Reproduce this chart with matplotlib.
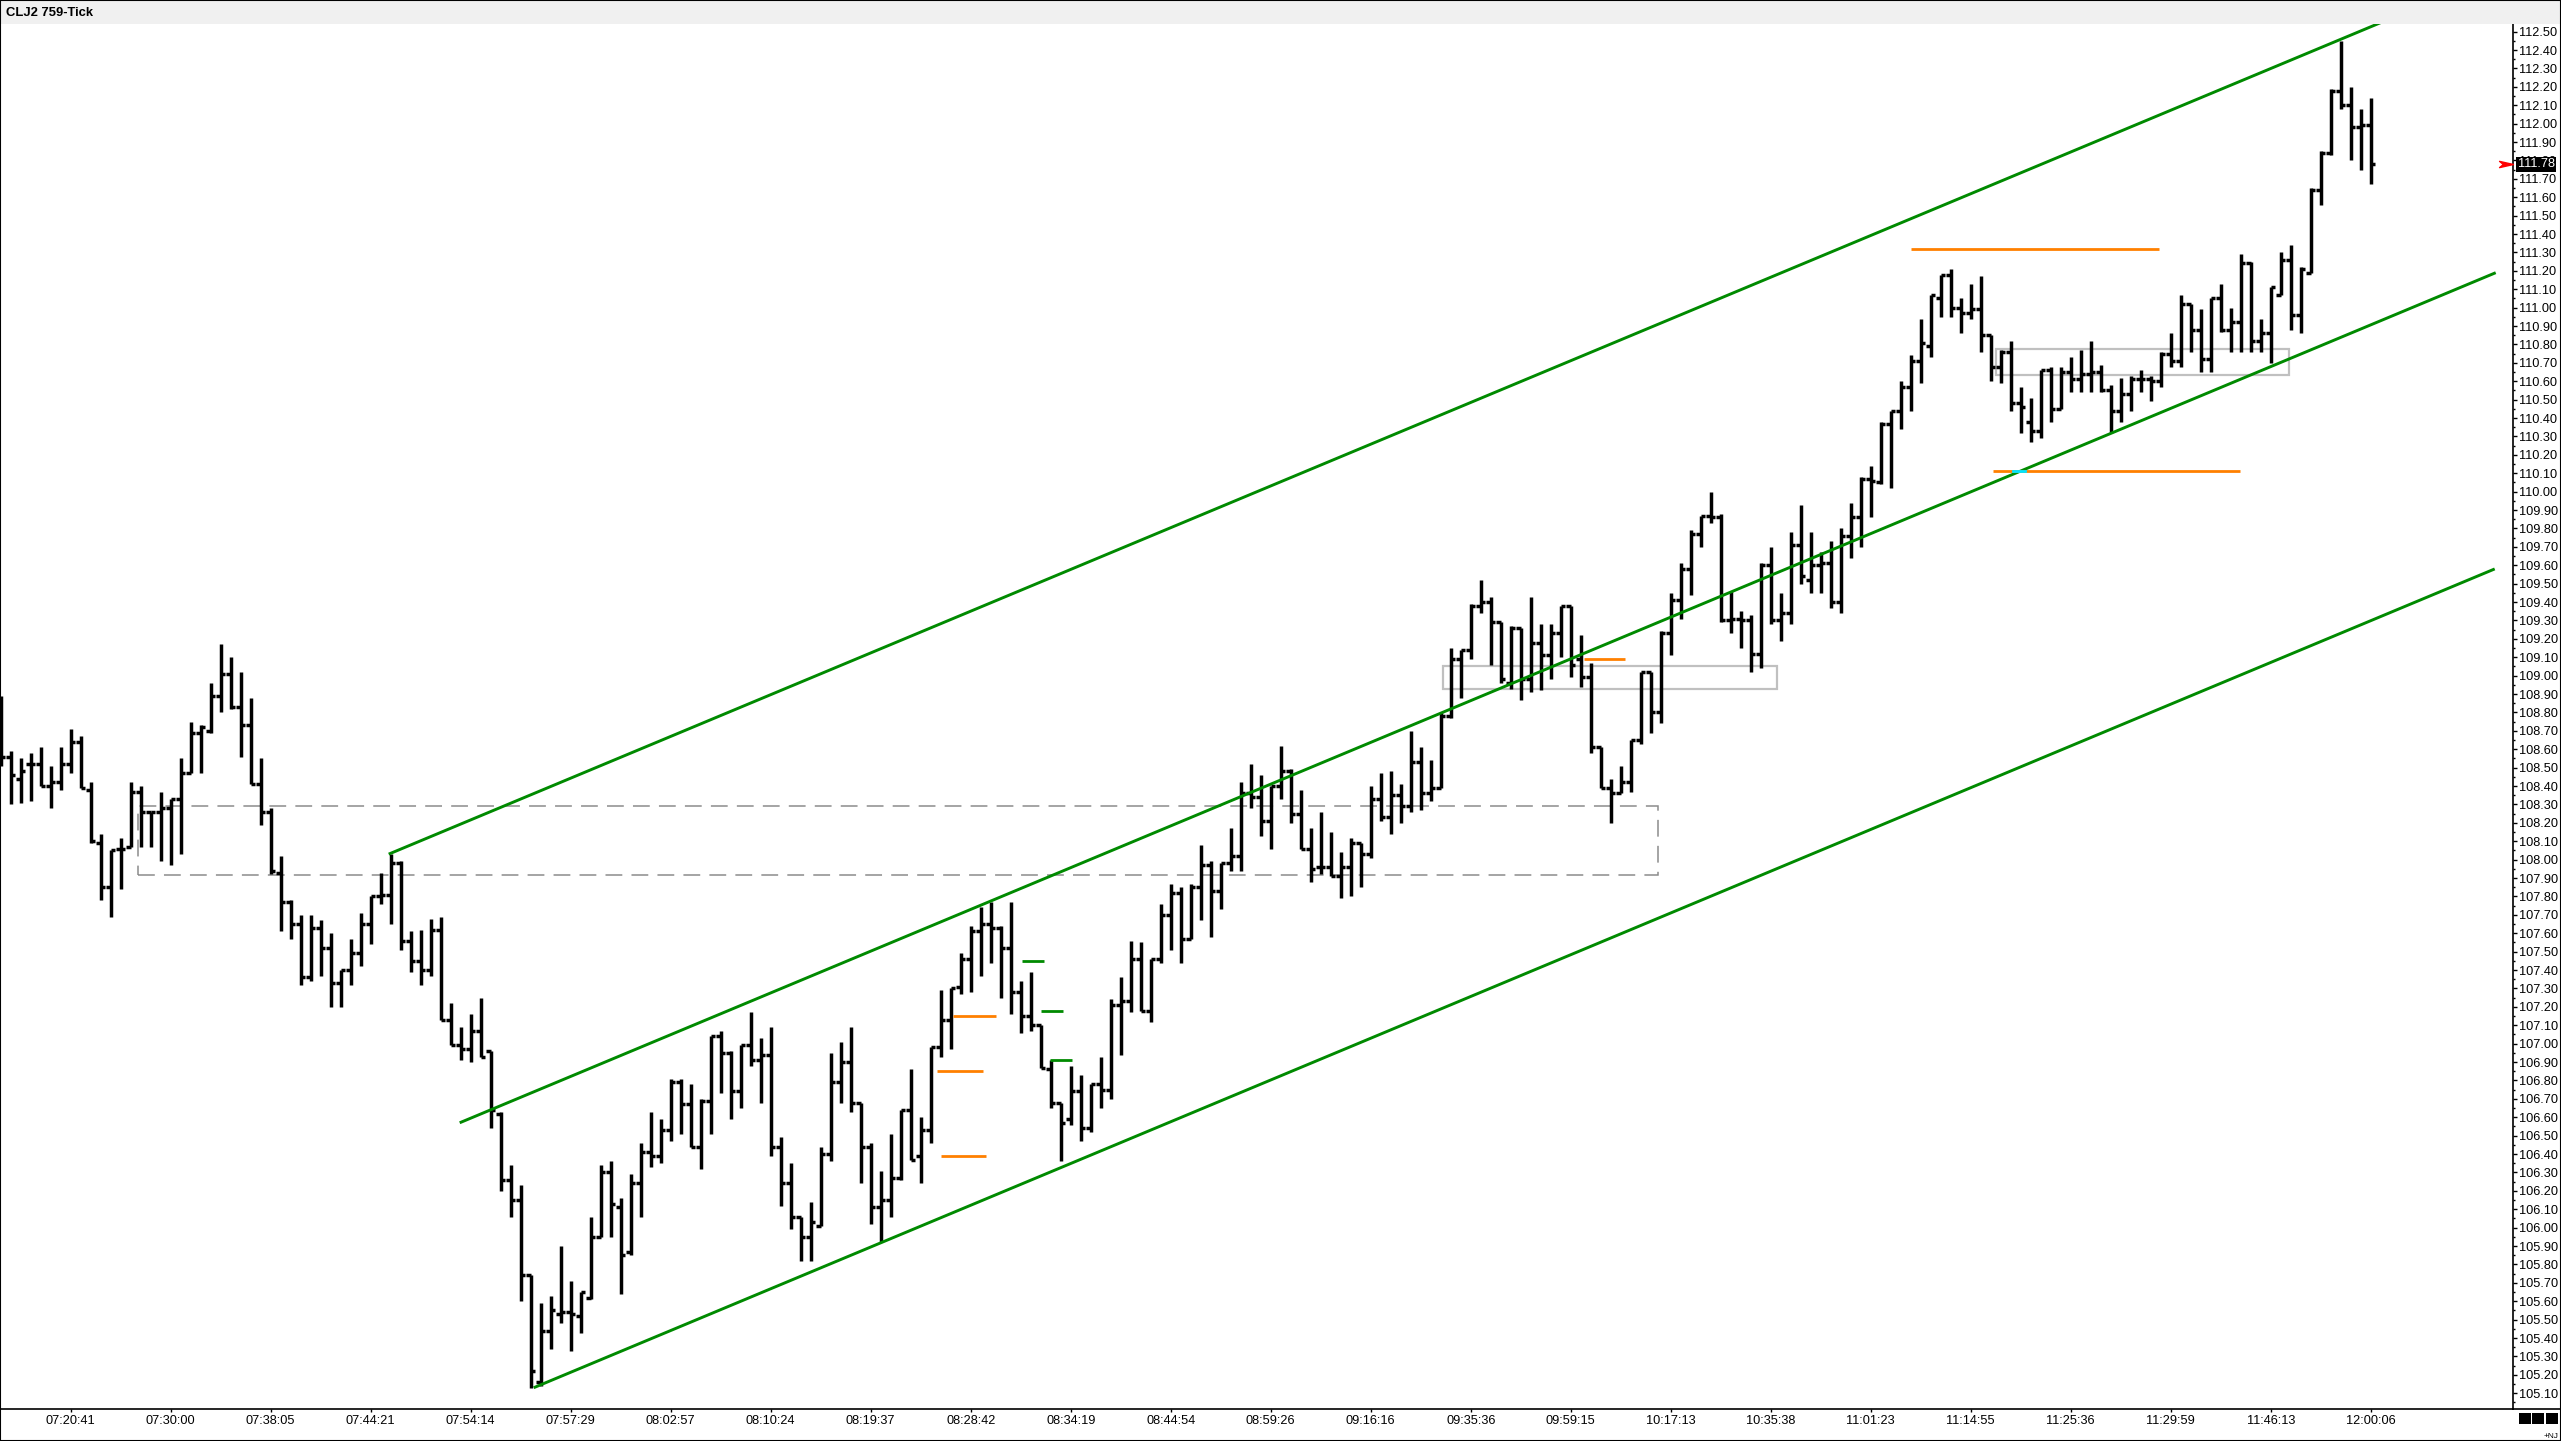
import numpy as np
import matplotlib
matplotlib.use('Agg')
import matplotlib.pyplot as plt
from matplotlib.collections import LineCollection
from matplotlib.patches import Rectangle
from matplotlib.path import Path
from matplotlib.lines import Line2D
from matplotlib.ticker import MultipleLocator, FormatStrFormatter
import matplotlib.transforms as mtransforms

plt.rcParams['font.family'] = ['Liberation Sans', 'DejaVu Sans']

# OHLC bars, one per 759-tick bar, oldest first
opens = [
    108.76, 108.56, 108.44, 108.52, 108.52, 108.40, 108.42, 108.52, 108.64, 108.38,
    108.09, 107.85, 108.06, 108.07, 108.37, 108.26, 108.26, 108.28, 108.33, 108.47,
    108.69, 108.70, 108.89, 109.01, 108.83, 108.73, 108.41, 108.26, 107.93, 107.77,
    107.65, 107.36, 107.63, 107.52, 107.33, 107.40, 107.49, 107.65, 107.80, 107.81,
    107.98, 107.56, 107.45, 107.40, 107.62, 107.13, 106.99, 106.97, 107.07, 106.96,
    106.62, 106.26, 106.15, 105.74, 105.16, 105.44, 105.53, 105.54, 105.52, 105.62,
    105.95, 106.30, 106.11, 105.87, 106.24, 106.41, 106.39, 106.53, 106.79, 106.67,
    106.44, 106.69, 107.04, 106.95, 106.74, 106.99, 106.91, 106.94, 106.44, 106.24,
    106.06, 105.95, 106.01, 106.40, 106.79, 106.90, 106.68, 106.44, 106.11, 106.15,
    106.27, 106.64, 106.39, 106.53, 106.98, 107.13, 107.31, 107.46, 107.61, 107.65,
    107.63, 107.52, 107.28, 107.15, 107.10, 106.86, 106.68, 106.59, 106.74, 106.54,
    106.78, 106.75, 107.21, 107.23, 107.46, 107.18, 107.46, 107.70, 107.82, 107.57,
    107.85, 107.97, 107.83, 107.98, 108.02, 108.36, 108.34, 108.21, 108.40, 108.48,
    108.25, 108.06, 107.96, 107.96, 107.91, 107.96, 108.09, 108.03, 108.33, 108.23,
    108.35, 108.29, 108.53, 108.36, 108.39, 108.78, 109.09, 109.14, 109.38, 109.40,
    109.29, 108.96, 109.26, 108.98, 109.18, 109.11, 109.23, 109.38, 109.09, 108.99,
    108.61, 108.39, 108.36, 108.42, 108.65, 109.02, 108.80, 109.23, 109.41, 109.58,
    109.77, 109.87, 109.86, 109.30, 109.31, 109.30, 109.12, 109.60, 109.30, 109.34,
    109.71, 109.52, 109.60, 109.61, 109.40, 109.76, 109.86, 110.07, 110.05, 110.37,
    110.44, 110.57, 110.71, 110.79, 111.05, 111.18, 111.00, 110.97, 110.99, 110.85,
    110.68, 110.76, 110.48, 110.38, 110.33, 110.66, 110.45, 110.65, 110.61, 110.64,
    110.65, 110.55, 110.44, 110.53, 110.61, 110.61, 110.60, 110.75, 110.71, 111.02,
    110.88, 110.72, 111.05, 110.88, 110.92, 111.24, 110.82, 110.86, 111.07, 111.26,
    110.96, 111.19, 111.64, 111.84, 112.18, 112.10, 111.98, 111.99,
]
highs = [
    108.89, 108.59, 108.55, 108.58, 108.61, 108.51, 108.61, 108.71, 108.67, 108.42,
    108.14, 108.05, 108.12, 108.42, 108.40, 108.26, 108.37, 108.33, 108.55, 108.75,
    108.73, 108.96, 109.17, 109.10, 109.02, 108.88, 108.55, 108.28, 108.02, 107.78,
    107.70, 107.70, 107.67, 107.60, 107.40, 107.57, 107.71, 107.80, 107.93, 108.03,
    107.99, 107.61, 107.62, 107.68, 107.69, 107.22, 107.09, 107.16, 107.25, 106.96,
    106.63, 106.34, 106.23, 105.74, 105.59, 105.63, 105.90, 105.71, 105.65, 106.06,
    106.34, 106.36, 106.16, 106.29, 106.46, 106.63, 106.59, 106.81, 106.81, 106.78,
    106.70, 107.04, 107.07, 106.96, 106.99, 107.17, 107.03, 107.09, 106.49, 106.35,
    106.06, 106.14, 106.44, 106.95, 107.01, 107.09, 106.68, 106.46, 106.31, 106.51,
    106.64, 106.86, 106.60, 106.98, 107.29, 107.30, 107.49, 107.64, 107.74, 107.77,
    107.64, 107.77, 107.34, 107.39, 107.10, 106.91, 106.68, 106.88, 106.83, 106.78,
    106.93, 107.24, 107.36, 107.56, 107.55, 107.46, 107.76, 107.87, 107.85, 107.87,
    108.08, 107.99, 107.98, 108.17, 108.42, 108.52, 108.46, 108.40, 108.62, 108.49,
    108.38, 108.17, 108.26, 108.15, 108.04, 108.12, 108.09, 108.40, 108.47, 108.48,
    108.41, 108.70, 108.61, 108.54, 108.80, 109.15, 109.14, 109.39, 109.52, 109.43,
    109.29, 109.27, 109.26, 109.43, 109.28, 109.28, 109.38, 109.38, 109.22, 109.07,
    108.61, 108.44, 108.51, 108.65, 109.02, 109.02, 109.24, 109.45, 109.61, 109.79,
    109.87, 110.00, 109.88, 109.46, 109.35, 109.33, 109.61, 109.70, 109.45, 109.78,
    109.93, 109.78, 109.67, 109.73, 109.80, 109.94, 110.08, 110.14, 110.38, 110.44,
    110.60, 110.74, 110.94, 111.07, 111.18, 111.21, 111.05, 111.13, 111.17, 110.85,
    110.77, 110.82, 110.57, 110.51, 110.66, 110.68, 110.68, 110.73, 110.77, 110.82,
    110.69, 110.58, 110.62, 110.63, 110.66, 110.63, 110.76, 110.86, 111.07, 111.02,
    110.99, 111.05, 111.13, 111.00, 111.29, 111.25, 110.94, 111.11, 111.30, 111.34,
    111.22, 111.65, 111.85, 112.19, 112.45, 112.20, 112.08, 112.14,
]
lows = [
    108.51, 108.30, 108.31, 108.32, 108.40, 108.28, 108.38, 108.47, 108.39, 108.09,
    107.78, 107.69, 107.84, 108.07, 108.07, 108.07, 107.99, 107.97, 108.03, 108.47,
    108.47, 108.69, 108.80, 108.82, 108.56, 108.41, 108.19, 107.92, 107.61, 107.57,
    107.32, 107.34, 107.37, 107.20, 107.20, 107.32, 107.42, 107.54, 107.76, 107.65,
    107.51, 107.39, 107.32, 107.37, 107.13, 106.99, 106.91, 106.90, 106.93, 106.54,
    106.20, 106.06, 105.60, 105.13, 105.14, 105.34, 105.48, 105.33, 105.43, 105.61,
    105.95, 105.95, 105.64, 105.85, 106.06, 106.33, 106.35, 106.47, 106.51, 106.44,
    106.32, 106.51, 106.73, 106.59, 106.65, 106.88, 106.68, 106.39, 106.12, 105.99,
    105.82, 105.82, 106.01, 106.36, 106.68, 106.63, 106.24, 106.02, 105.92, 106.06,
    106.26, 106.37, 106.24, 106.46, 106.93, 106.97, 107.27, 107.28, 107.37, 107.44,
    107.25, 107.16, 107.06, 107.07, 106.87, 106.65, 106.36, 106.56, 106.47, 106.52,
    106.65, 106.70, 106.94, 107.17, 107.18, 107.12, 107.44, 107.51, 107.44, 107.57,
    107.67, 107.58, 107.73, 107.94, 107.94, 108.28, 108.13, 108.06, 108.33, 108.20,
    108.06, 107.88, 107.92, 107.91, 107.79, 107.80, 107.85, 108.01, 108.21, 108.14,
    108.20, 108.26, 108.27, 108.32, 108.39, 108.77, 108.88, 109.09, 109.34, 109.06,
    108.96, 108.93, 108.87, 108.91, 108.92, 108.98, 109.10, 108.99, 108.94, 108.58,
    108.39, 108.20, 108.36, 108.37, 108.63, 108.69, 108.74, 109.11, 109.31, 109.44,
    109.70, 109.83, 109.29, 109.23, 109.15, 109.02, 109.04, 109.28, 109.19, 109.28,
    109.50, 109.45, 109.45, 109.37, 109.34, 109.64, 109.70, 109.86, 110.04, 110.02,
    110.34, 110.44, 110.59, 110.73, 110.95, 110.95, 110.86, 110.94, 110.76, 110.60,
    110.59, 110.44, 110.32, 110.27, 110.29, 110.38, 110.45, 110.54, 110.54, 110.54,
    110.54, 110.32, 110.38, 110.44, 110.54, 110.49, 110.57, 110.68, 110.68, 110.76,
    110.65, 110.65, 110.87, 110.76, 110.76, 110.76, 110.76, 110.70, 111.07, 110.88,
    110.86, 111.19, 111.56, 111.83, 112.08, 111.80, 111.75, 111.67,
]
closes = [
    108.56, 108.46, 108.48, 108.52, 108.40, 108.42, 108.52, 108.64, 108.39, 108.10,
    107.85, 108.05, 108.06, 108.37, 108.26, 108.26, 108.28, 108.33, 108.47, 108.69,
    108.72, 108.89, 109.01, 108.83, 108.73, 108.41, 108.26, 107.94, 107.77, 107.65,
    107.36, 107.63, 107.52, 107.33, 107.40, 107.49, 107.65, 107.80, 107.81, 107.98,
    107.56, 107.45, 107.40, 107.62, 107.13, 106.99, 106.97, 107.07, 106.93, 106.64,
    106.26, 106.15, 105.74, 105.22, 105.44, 105.55, 105.54, 105.53, 105.65, 105.95,
    106.30, 106.13, 105.85, 106.24, 106.41, 106.39, 106.53, 106.79, 106.67, 106.44,
    106.69, 107.04, 106.95, 106.74, 106.99, 106.91, 106.94, 106.44, 106.24, 106.06,
    105.95, 106.03, 106.40, 106.79, 106.90, 106.68, 106.44, 106.11, 106.15, 106.27,
    106.64, 106.37, 106.53, 106.98, 107.13, 107.30, 107.46, 107.61, 107.65, 107.63,
    107.52, 107.28, 107.15, 107.10, 106.87, 106.68, 106.57, 106.74, 106.54, 106.78,
    106.75, 107.21, 107.23, 107.46, 107.18, 107.46, 107.70, 107.82, 107.57, 107.85,
    107.97, 107.83, 107.98, 108.02, 108.36, 108.34, 108.21, 108.40, 108.48, 108.25,
    108.06, 107.95, 107.96, 107.91, 107.96, 108.09, 108.03, 108.33, 108.23, 108.35,
    108.29, 108.53, 108.36, 108.39, 108.78, 109.09, 109.14, 109.38, 109.40, 109.29,
    108.98, 109.26, 108.98, 109.18, 109.11, 109.23, 109.38, 109.06, 108.99, 108.61,
    108.39, 108.36, 108.42, 108.65, 109.02, 108.80, 109.23, 109.41, 109.58, 109.77,
    109.87, 109.86, 109.30, 109.31, 109.30, 109.12, 109.60, 109.30, 109.34, 109.71,
    109.54, 109.60, 109.61, 109.40, 109.76, 109.86, 110.07, 110.06, 110.37, 110.44,
    110.57, 110.71, 110.81, 111.07, 111.18, 111.00, 110.97, 110.99, 110.85, 110.68,
    110.76, 110.48, 110.46, 110.33, 110.66, 110.45, 110.65, 110.61, 110.64, 110.65,
    110.55, 110.44, 110.53, 110.61, 110.61, 110.60, 110.75, 110.71, 111.02, 110.88,
    110.72, 111.05, 110.88, 110.92, 111.24, 110.82, 110.86, 111.11, 111.26, 110.96,
    111.21, 111.64, 111.84, 112.18, 112.10, 111.98, 111.99, 111.78,
]

# time axis labels (every 10th bar)
time_labels = ['07:20:41', '07:30:00', '07:38:05', '07:44:21', '07:54:14', '07:57:29',
               '08:02:57', '08:10:24', '08:19:37', '08:28:42', '08:34:19', '08:44:54',
               '08:59:26', '09:16:16', '09:35:36', '09:59:15', '10:17:13', '10:35:38',
               '11:01:23', '11:14:55', '11:25:36', '11:29:59', '11:46:13', '12:00:06']
label_bars = [7, 17, 27, 37, 47, 57, 67, 77, 87, 97, 107, 117,
              127, 137, 147, 157, 167, 177, 187, 197, 207, 217, 227, 237]

# drawing objects
channel_x0 = [38.8, 45.9, 53.3]
channel_p0 = [108.03, 106.57, 105.13]
channel_x1 = [249.5, 249.5, 249.4]
channel_p1 = [112.81, 111.19, 109.58]

orange_x0 = [95.2, 93.6, 94.0, 158.3, 191.0, 199.2]
orange_x1 = [99.5, 98.2, 98.5, 162.4, 215.8, 223.9]
orange_p = [107.15, 106.85, 106.39, 109.09, 111.32, 110.11]

green_x0 = [102.1, 104.0, 104.9]
green_x1 = [104.3, 106.2, 107.1]
green_p = [107.45, 107.18, 106.91]

dash_box = (13.76, 165.76, 107.915, 108.294)
gray_boxes = [(144.26, 177.63, 108.926, 109.052),
              (199.5, 228.8, 110.634, 110.776)]

last_price = 111.78
title = 'CLJ2 759-Tick'

W, H = 2561, 1441
fig = plt.figure(figsize=(W / 100, H / 100), dpi=100)
ax = fig.add_axes([0, (H - 1409) / H, 2513 / W, (1409 - 24) / H])
ax.set_xlim(-0.07, 251.23)
ax.set_ylim(105.0144, 112.5416)

# bars
segs = []
for i, (o, h, l, c) in enumerate(zip(opens, highs, lows, closes)):
    segs.append([(i, l), (i, h)])
    segs.append([(i - 0.45, o), (i, o)])
    segs.append([(i, c), (i + 0.45, c)])
ax.add_collection(LineCollection(segs, colors='black', linewidths=2.5,
                                 capstyle='butt', zorder=3))

# rectangles
x0, x1, p0, p1 = dash_box
ax.add_patch(Rectangle((x0, p0), x1 - x0, p1 - p0, fill=False, ec='#8c8c8c',
                       lw=1.1, ls=(0, (11, 6)), zorder=2))
for bx0, bx1, bp0, bp1 in gray_boxes:
    ax.add_patch(Rectangle((bx0, bp0), bx1 - bx0, bp1 - bp0, fill=False,
                           ec='#c0c0c0', lw=1.6, zorder=2))

# channel
for a, b, c_, d in zip(channel_x0, channel_p0, channel_x1, channel_p1):
    ax.plot([a, c_], [b, d], color='#008a00', lw=2.1, solid_capstyle='butt', zorder=4)

for a, b, p in zip(orange_x0, orange_x1, orange_p):
    ax.plot([a, b], [p, p], color='#ff8000', lw=2.0, solid_capstyle='butt', zorder=4)
ax.plot([201.2, 202.4], [110.11, 110.11], color='#00e5ff', lw=2.0, zorder=5)

for a, b, p in zip(green_x0, green_x1, green_p):
    ax.plot([a, b], [p, p], color='#008a00', lw=2.0, solid_capstyle='butt', zorder=4)

# axes styling
for s in ['top', 'left']:
    ax.spines[s].set_visible(False)
ax.spines['right'].set_linewidth(1.2)
ax.spines['bottom'].set_linewidth(1.2)
ax.yaxis.tick_right()
ax.yaxis.set_major_locator(MultipleLocator(0.1))
ax.yaxis.set_minor_locator(MultipleLocator(0.05))
ax.yaxis.set_major_formatter(FormatStrFormatter('%.2f'))
ax.tick_params(axis='y', which='major', length=3, width=1, pad=1.5, labelsize=9.2)
ax.tick_params(axis='y', which='minor', length=1.6, width=1)
ax.set_xticks(label_bars)
ax.set_xticklabels(time_labels)
ax.tick_params(axis='x', length=2.5, width=1, pad=2, labelsize=9.2)

# last price marker
blend = mtransforms.blended_transform_factory(ax.transAxes, ax.transData)
ax.text(1.0018, last_price, f'{last_price:.2f}', transform=blend, color='white',
        fontsize=9.2, ha='left', va='center', zorder=10, clip_on=False,
        bbox=dict(boxstyle='square,pad=0.12', fc='black', ec='none'))
arrow = Path([(-1, 0.45), (1, 0), (-1, -0.45), (-0.45, 0), (-1, 0.45)],
             [Path.MOVETO, Path.LINETO, Path.LINETO, Path.LINETO, Path.CLOSEPOLY])
ax.plot([250.5], [last_price], marker=arrow, ms=10, color='red', mec='red',
        clip_on=False, zorder=10)

# header, border, extra lines
fig.patches.append(Rectangle((0, 1 - 24 / H), 1, 24 / H, transform=fig.transFigure,
                             fc='#f0f0f0', ec='none', zorder=0))
fig.text(6 / W, 1 - 12.5 / H, title, fontsize=9.4, fontweight='bold', ha='left', va='center')
fig.lines.append(Line2D([2513 / W, 1], [(H - 1409) / H] * 2, transform=fig.transFigure,
                        color='black', lw=1.2))
fig.patches.append(Rectangle((0, 0), 1, 1, transform=fig.transFigure, fill=False,
                             ec='black', lw=1.5))
for sx in [2519, 2532, 2546]:
    fig.patches.append(Rectangle((sx / W, (H - 1423.5) / H), 12 / W, 11 / H,
                                 transform=fig.transFigure, fc='black', ec='none'))
fig.text(2558 / W, (H - 1436) / H, '+NJ', fontsize=6, ha='right', va='center')

fig.savefig('out.png', dpi=100)
